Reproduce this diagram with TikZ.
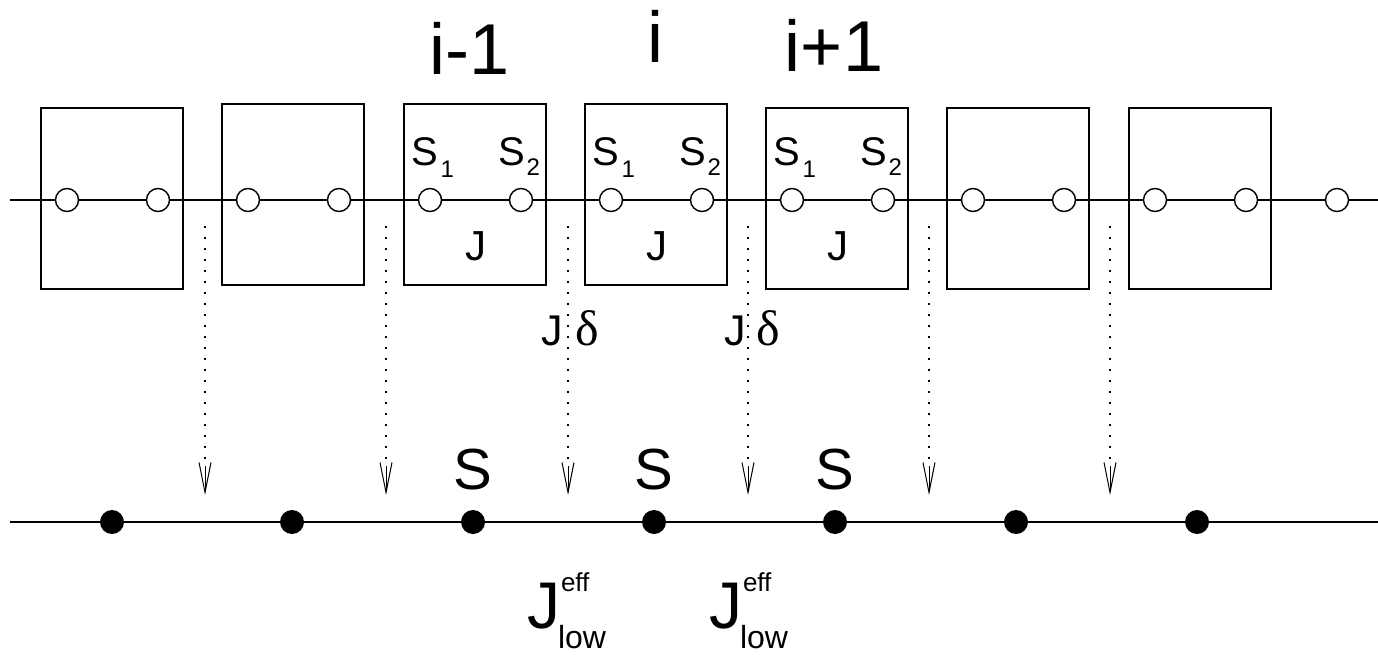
\documentclass[tikz,border=0pt]{standalone}
\usepackage{fontspec}
\setmainfont{Liberation Sans}
\newfontfamily\grk{Liberation Serif}
\usetikzlibrary{arrows.meta}
\tikzset{
  cell/.style={draw, line width=1.6pt, minimum width=142pt, minimum height=181pt, inner sep=0pt},
  site/.style={circle, draw, fill=white, minimum size=23pt, inner sep=0pt, line width=1.4pt},
  spin/.style={circle, fill=black, minimum size=24pt, inner sep=0pt},
  chain/.style={line width=1.6pt},
  flow/.style={line width=1.1pt, dash pattern=on 1.6pt off 9.4pt},
  flowtip/.style={line width=1pt, -{Straight Barb[length=30pt,width=12pt]}},
  txt/.style={inner sep=0pt, outer sep=0pt},
}
\newcommand{\fs}[1]{\fontsize{#1}{#1}\selectfont}
\begin{document}
\begin{tikzpicture}[x=1pt,y=-1pt]
\useasboundingbox (0,0) rectangle (1378,655);
% upper chain
\coordinate (L0) at (10,200);
\coordinate (L1) at (1378,200);
\draw[chain] (L0) -- (L1);
\foreach \i/\l/\t in {1/41/108,2/222/104,3/404/104,4/585/104,5/766/108,6/947/108,7/1129/108}{
  \node[cell] (b\i) at (\l+71,\t+90.5) {};
  \node[site] (c\i a) at (\l+26,200) {};
  \node[site] (c\i b) at (\l+117,200) {};
}
\node[site] (c8a) at (1337,200) {};
% labels in the three middle boxes
\foreach \i/\l in {3/404,4/585,5/766}{
  \node[txt, anchor=base west, font=\fs{40}] (s1\i) at (\l+7,166) {S\kern3pt\raisebox{-12pt}{\fs{24}1}};
  \node[txt, anchor=base west, font=\fs{40}] (s2\i) at (\l+94,166) {S\kern2pt\raisebox{-10pt}{\fs{24}2}};
  \node[txt, anchor=base, font=\fs{42}] (jj\i) at (\l+72,260) {J};
}
% top indices
\node[txt, anchor=base, font=\fs{72}] (im) at (470,75) {i-1};
\node[txt, anchor=base, font=\fs{72}] (ic) at (655,63) {i};
\node[txt, anchor=base, font=\fs{72}] (ip) at (834,72) {i+1};
% dotted arrows
\foreach \k/\x in {1/205,2/386,3/568,4/748,5/929,6/1110}{
  \coordinate (a\k) at (\x,226);
  \coordinate (h\k) at (\x,466);
  \coordinate (t\k) at (\x,495);
  \draw[flow] (a\k) -- (h\k);
  \draw[flowtip] (h\k) -- (t\k);
}
% J delta labels
\node[txt, anchor=base west, font=\fs{43}] (jd1) at (541,345) {J};
\node[txt, anchor=base west, font=\fs{50}\grk] (dd1) at (575,345) {δ};
\node[txt, anchor=base west, font=\fs{43}] (jd2) at (724,345) {J};
\node[txt, anchor=base west, font=\fs{50}\grk] (dd2) at (756,345) {δ};
% lower chain
\coordinate (B0) at (10,522);
\coordinate (B1) at (1378,522);
\draw[chain] (B0) -- (B1);
\foreach \k/\x in {1/112,2/292,3/473,4/654,5/835,6/1016,7/1197}{
  \node[spin] (p\k) at (\x,522) {};
}
\foreach \k/\x in {3/473,4/654,5/835}{
  \node[txt, anchor=base, font=\fs{58}] (bs\k) at (\x,489) {S};
}
% effective couplings
\foreach \k/\x in {1/527,2/709}{
  \node[txt, anchor=base west, font=\fs{66}] (je\k) at (\x,628) {J};
  \node[txt, anchor=base west, font=\fs{26}] (ef\k) at (\x+34,591) {eff};
  \node[txt, anchor=base west, font=\fs{32}] (lw\k) at (\x+31,648) {low};
}
\end{tikzpicture}
\end{document}
